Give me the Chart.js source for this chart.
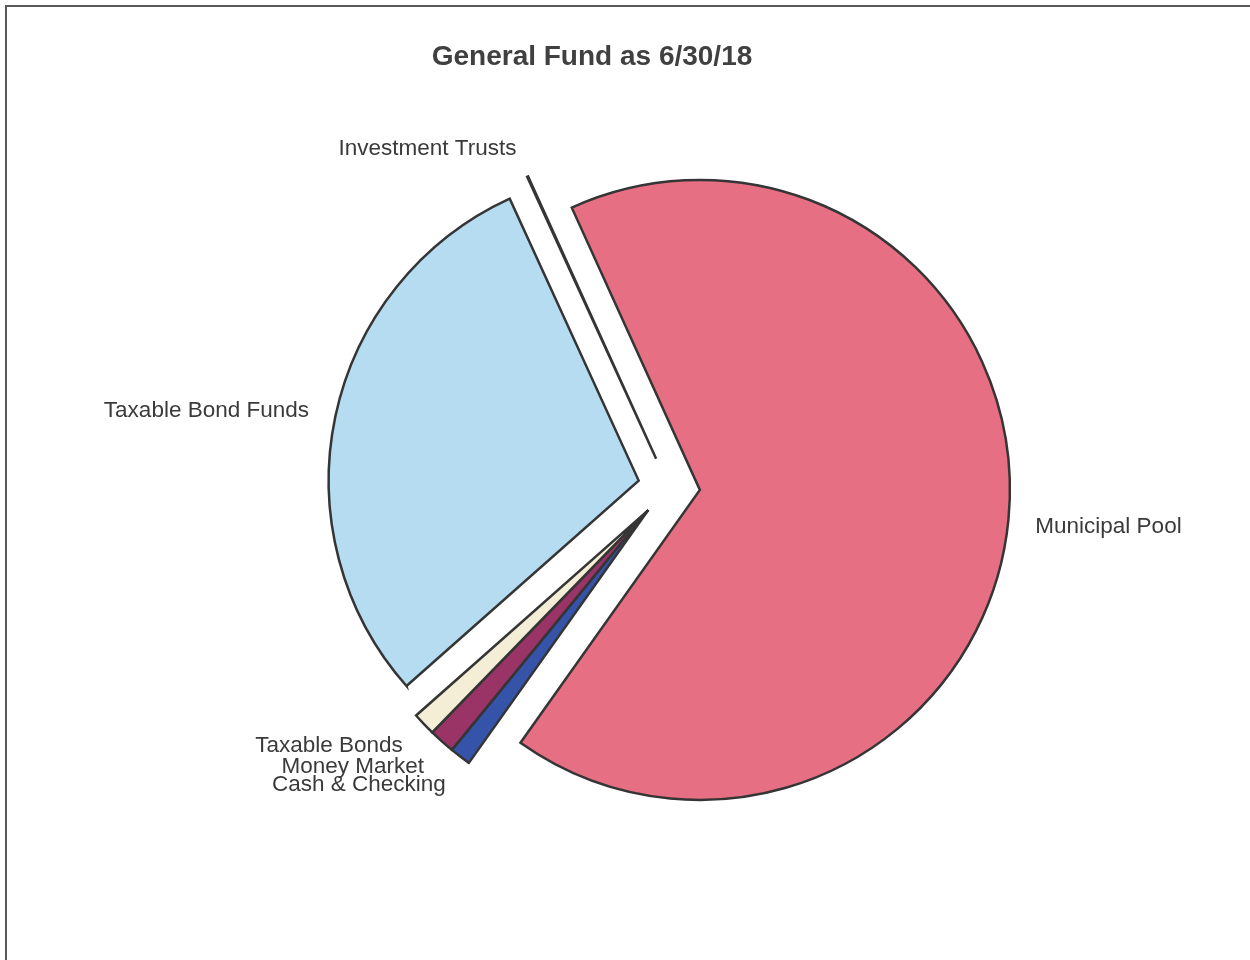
<!DOCTYPE html>
<html>
<head>
<meta charset="utf-8">
<script src="https://cdn.jsdelivr.net/npm/chart.js@4"></script>
<style>
  html, body { margin: 0; padding: 0; background: #ffffff; overflow: hidden; }
  #wrap { position: relative; width: 1250px; height: 960px; }
  #frame { position: absolute; left: 5px; top: 5px; width: 1300px; height: 1000px;
           border-top: 2px solid #5a5a5a; border-left: 2px solid #5a5a5a; pointer-events: none; }
</style>
</head>
<body>
<div id="wrap">
  <canvas id="c" width="1250" height="960"></canvas>
  <div id="frame"></div>
</div>
<script>
const chartTitle = 'General Fund as 6/30/18';
const categories = ['Municipal Pool', 'Cash & Checking', 'Money Market', 'Taxable Bonds', 'Taxable Bond Funds', 'Investment Trusts'];
const values = [66.6, 1.1, 1.35, 1.2, 29.7, 0.05];
const colors = ['#E76F83', '#3553A8', '#9A3366', '#F4EED6', '#B5DCF1', '#FFFFFF'];
// slices that are pulled out together as one wedge
const groupedSlices = ['Cash & Checking', 'Money Market', 'Taxable Bonds'];

const PIE_RADIUS = 310;
const EXPLODE = 31; // explosion distance in px

// Explode slices by moving each arc element's centre along its (group) mid-angle
const explodePlugin = {
  id: 'explode',
  afterDatasetsUpdate(chart) {
    const ca = chart.chartArea;
    const cx = (ca.left + ca.right) / 2, cy = (ca.top + ca.bottom) / 2;
    const meta = chart.getDatasetMeta(0);
    let gs = Infinity, ge = -Infinity;
    meta.data.forEach((arc, i) => {
      if (groupedSlices.includes(categories[i])) {
        gs = Math.min(gs, arc.startAngle);
        ge = Math.max(ge, arc.endAngle);
      }
    });
    const gm = (gs + ge) / 2;
    meta.data.forEach((arc, i) => {
      const dir = groupedSlices.includes(categories[i]) ? gm : (arc.startAngle + arc.endAngle) / 2;
      arc.x = cx + EXPLODE * Math.cos(dir);
      arc.y = cy + EXPLODE * Math.sin(dir);
    });
  }
};

const labelPlugin = {
  id: 'sliceLabels',
  afterDatasetsDraw(chart) {
    const ctx = chart.ctx;
    const ca = chart.chartArea;
    const cx = (ca.left + ca.right) / 2, cy = (ca.top + ca.bottom) / 2;
    const meta = chart.getDatasetMeta(0);
    ctx.save();
    ctx.font = '22.5px "Liberation Sans", Arial, sans-serif';
    ctx.fillStyle = '#3a3a3a';
    ctx.textBaseline = 'middle';
    meta.data.forEach((arc, i) => {
      const mid = (arc.startAngle + arc.endAngle) / 2;
      const s = Math.sin(mid);
      const R = PIE_RADIUS + EXPLODE + 27;
      const x = cx + Math.cos(mid) * R;
      const y = cy + s * R + (s > 0 ? 5 : (s < -0.5 ? -3 : 0));
      ctx.textAlign = Math.cos(mid) < 0 ? 'right' : 'left';
      ctx.fillText(categories[i], x, y);
    });
    ctx.font = 'bold 28px "Liberation Sans", Arial, sans-serif';
    ctx.fillStyle = '#404040';
    ctx.textAlign = 'center';
    ctx.textBaseline = 'alphabetic';
    ctx.fillText(chartTitle, 592, 65);
    ctx.restore();
  }
};

new Chart(document.getElementById('c'), {
  type: 'pie',
  data: {
    labels: categories,
    datasets: [{
      data: values,
      backgroundColor: colors,
      borderColor: '#353535',
      borderWidth: 2.5,
      borderJoinStyle: 'miter',
      offset: 0
    }]
  },
  options: {
    responsive: false,
    animation: false,
    devicePixelRatio: 1,
    rotation: -24.4,
    radius: PIE_RADIUS,
    layout: { padding: { left: 88, right: 0, top: 14, bottom: 0 } },
    plugins: {
      legend: { display: false },
      title: { display: false },
      tooltip: { enabled: false }
    }
  },
  plugins: [explodePlugin, labelPlugin]
});
</script>
</body>
</html>
